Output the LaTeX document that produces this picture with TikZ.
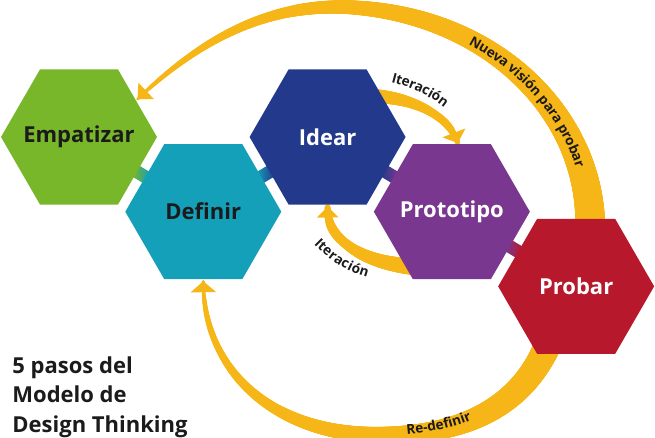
\documentclass[tikz,border=0pt]{standalone}
\usepackage{fontspec}
\setmainfont{Open Sans}
\usetikzlibrary{shapes.geometric,arrows.meta,decorations.markings,decorations.text,backgrounds}
\definecolor{verde}{RGB}{120,182,42}
\definecolor{turquesa}{RGB}{20,160,185}
\definecolor{azul}{RGB}{35,58,140}
\definecolor{morado}{RGB}{122,55,143}
\definecolor{rojo}{RGB}{184,24,44}
\definecolor{flecha}{RGB}{246,182,24}
\definecolor{tinta}{RGB}{27,27,27}
\begin{document}
\begin{tikzpicture}[x=0.5pt,y=-0.5pt,
    hexa/.style 2 args={regular polygon,regular polygon sides=6,minimum size=78pt,inner sep=0,outer sep=0,
        label={[font=\bfseries\fontsize{11}{13}\selectfont,text=#2]center:#1}},
    puente/.style={rectangle,sloped,midway,minimum width=7pt,minimum height=6.5pt,inner sep=0},
    tapered/.style args={#1 to #2}{postaction={decorate,decoration={markings,
        mark=between positions 0 and 1 step 0.4pt with {%
          \pgfmathsetmacro\radio{#1-(#1-#2)*\pgfkeysvalueof{/pgf/decoration/mark info/distance from start}/\pgfdecoratedpathlength}%
          \fill[flecha] (0,0) circle[radius=\radio pt];}}}},
    rotulo/.style args={#1 at #2 raise #3}{decorate,decoration={text along path,text color=tinta,
        text={|\bfseries\fontsize{6.8}{8}\selectfont|#1},text align={#2},raise=#3}}]
    \def\paso{72.5pt}
    \useasboundingbox (0,0) rectangle (655,438);
        \node[hexa={Empatizar}{tinta},fill=verde] (empatizar) at (79,137) {};
        \path (empatizar) ++(-31:\paso)%
              node[hexa={Definir}{tinta},fill=turquesa] (definir) {};
        \path (definir) ++(31:\paso)%
              node[hexa={Idear}{white},fill=azul] (idear) {};
        \path (idear) ++(-31:\paso)%
              node[hexa={Prototipo}{white},fill=morado] (prototipo) {};
        \path (prototipo) ++(-31:\paso)%
              node[hexa={Probar}{white},fill=rojo] (probar) {};
        \node[anchor=north west,align=left,inner sep=0,text=tinta,font=\bfseries\fontsize{11}{14.75}\selectfont] (titulo) at (12,356) {5 pasos del\\Modelo de\\Design Thinking};

    \begin{pgfonlayer}{background}
    \path (empatizar) -- (definir) node[puente,left color=verde,right color=turquesa] {};
    \path (definir) -- (idear) node[puente,left color=turquesa,right color=azul] {};
    \path (idear) -- (prototipo) node[puente,left color=azul,right color=morado] {};
    \path (prototipo) -- (probar) node[puente,left color=morado,right color=rojo] {};

    \draw[flecha,line width=1.5pt,-{Triangle[length=6pt,width=11pt]},tapered=7.5 to 0.75]
        ([xshift=7pt,yshift=-5pt]probar.north) .. controls (592,120) and (500,20) .. (360,8)
        .. controls (270,0) and (200,40) .. ([yshift=2pt]empatizar.30);
    \draw[flecha,line width=1.5pt,-{Triangle[length=5.5pt,width=12.5pt]},tapered=6.75 to 0.75]
        ([xshift=-14pt,yshift=5pt]probar.south) .. controls (518,415) and (450,437) .. (375,435)
        .. controls (270,432) and (204,370) .. ([yshift=-1pt]definir.south);
    \draw[flecha,line width=2.5pt,-{Triangle[length=5.5pt,width=12pt]},tapered=3.75 to 1.25]
        ([shift={(-7pt,-1.5pt)}]idear.40) .. controls (405,96) and (445,110) .. ([xshift=3pt,yshift=0.5pt]prototipo.north);
    \draw[flecha,line width=3pt,-{Triangle[length=5.5pt,width=10.5pt]},tapered=4.25 to 1.5]
        ([xshift=5pt]prototipo.230) .. controls (370,264) and (328,245) .. ([yshift=-1pt]idear.south);

    \path[rotulo={Nueva visión para probar at left indent=58pt raise -2.5pt}]
        (360,8) .. controls (500,20) and (592,120) .. ([xshift=7pt,yshift=-5pt]probar.north);
    \path[rotulo={Re-definir at left indent=16pt raise 0pt}]
        (375,435) .. controls (450,437) and (518,415) .. ([xshift=-14pt,yshift=5pt]probar.south);
    \path[rotulo={Iteración at center raise -2.5pt}] (386,76) .. controls (410,81) and (435,92) .. (452,108);
    \path[rotulo={Iteración at center raise -2.5pt}] (313,236) .. controls (330,255) and (350,269) .. (375,274);
    \end{pgfonlayer}
\end{tikzpicture}
\end{document}
